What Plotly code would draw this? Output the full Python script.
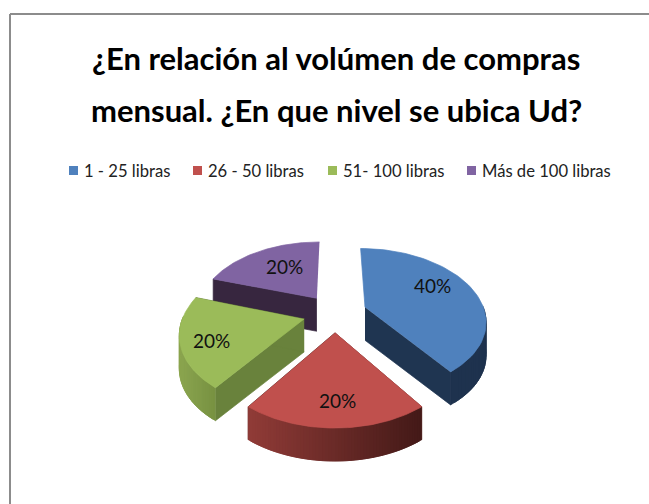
import numpy as np
import plotly.graph_objects as go

title_lines = ["¿En relación al volúmen de compras", "mensual. ¿En que nivel se ubica Ud?"]
categories = ["1 - 25 libras", "26 - 50 libras", "51- 100 libras", "Más de 100 libras"]
percent_values = [40, 20, 20, 20]

top_colors = ["#4F81BD", "#C0504D", "#9BBB59", "#8064A2"]
wall_colors = ["#1F3551", "#5A2523", "#69823C", "#37263F"]
# colour of the curved side at its left and right end
side_colors = [((32, 52, 82), (30, 50, 78)),
               ((146, 60, 56), (68, 26, 24)),
               ((140, 166, 80), (120, 146, 66)),
               ((55, 38, 63), (55, 38, 63))]

# the fake 3d projection, in page pixels
CX, CY = 335, 313
RADIUS = 120
EXPLODE = 32
TILT = 0.59
FOCAL = 690
DEPTH = 33


def project(x, y):
    s = FOCAL / (FOCAL + y)
    return CX + x * s, CY - y * TILT * s


def slice_outline(start, end):
    # angles in degrees, clockwise from 12 o'clock
    mid = np.radians((start + end) / 2)
    ox, oy = EXPLODE * np.sin(mid), EXPLODE * np.cos(mid)
    t = np.radians(np.linspace(start, end, 61))
    return ox, oy, t, ox + RADIUS * np.sin(t), oy + RADIUS * np.cos(t)


def add_poly(fig, xs, ys, color):
    fig.add_trace(go.Scatter(x=xs, y=ys, mode="lines", fill="toself", fillcolor=color,
                             line=dict(color=color, width=0.7), hoverinfo="skip", showlegend=False))


fig = go.Figure()

edges = np.cumsum([0] + percent_values) * 3.6
# back slices first so the front ones sit on top
for i in [3, 0, 2, 1]:
    start, end = edges[i], edges[i + 1]
    ox, oy, t, ax, ay = slice_outline(start, end)
    px, py = project(ax, ay)
    apex_x, apex_y = project(ox, oy)

    # flat cut faces, skip the ones that would hide behind the top
    for ex, ey in [(px[0], py[0]), (px[-1], py[-1])]:
        if ey > apex_y - 25 and (ex - apex_x) * (1 if ex > apex_x else -1) > 0:
            add_poly(fig, [apex_x, ex, ex, apex_x], [apex_y, ey, ey + DEPTH, apex_y + DEPTH], wall_colors[i])

    # curved side, only the part turned to the viewer
    left, right = side_colors[i]
    x_min, x_max = px.min(), px.max()
    for k in range(len(t) - 2):
        if np.cos((t[k] + t[k + 1]) / 2) >= 0.02:
            continue
        f = (px[k] - x_min) / (x_max - x_min)
        rgb = [int(left[c] + (right[c] - left[c]) * f) for c in range(3)]
        # k+2 so each strip overlaps the next one and no seams show
        add_poly(fig, [px[k], px[k + 2], px[k + 2], px[k]],
                 [py[k], py[k + 2], py[k + 2] + DEPTH, py[k] + DEPTH], f"rgb({rgb[0]},{rgb[1]},{rgb[2]})")

    add_poly(fig, np.r_[apex_x, px], np.r_[apex_y, py], top_colors[i])

annotations = []
for line, y in zip(title_lines, [58, 110]):
    annotations.append(dict(text=f"<b>{line}</b>", x=336, y=y, xref="x", yref="y", showarrow=False,
                            font=dict(family="Lato", size=31, color="black")))

shapes = [dict(type="line", x0=10, x1=649, y0=14, y1=14, line=dict(color="#8C8C8C", width=2)),
          dict(type="line", x0=10, x1=10, y0=14, y1=504, line=dict(color="#8C8C8C", width=2))]

swatch_x = [69, 193, 328, 467]
for name, color, x in zip(categories, top_colors, swatch_x):
    shapes.append(dict(type="rect", x0=x, x1=x + 9, y0=166, y1=175, fillcolor=color, line_width=0))
    annotations.append(dict(text=name, x=x + 13, y=171, xref="x", yref="y", xanchor="left", showarrow=False,
                            font=dict(family="Lato", size=16.6, color="#222222")))

label_pos = [(432, 285), (337, 400), (211, 340), (284, 266)]
for value, (x, y) in zip(percent_values, label_pos):
    annotations.append(dict(text=f"{value}%", x=x, y=y, xref="x", yref="y", showarrow=False,
                            font=dict(family="Lato", size=19, color="#111111")))

fig.update_layout(
    width=649, height=504,
    margin=dict(l=0, r=0, t=0, b=0),
    paper_bgcolor="white", plot_bgcolor="white",
    xaxis=dict(range=[0, 649], visible=False, fixedrange=True),
    yaxis=dict(range=[504, 0], visible=False, fixedrange=True),
    annotations=annotations,
    shapes=shapes,
    showlegend=False,
)

fig.write_html("out.html", config={"displayModeBar": False}, post_script="document.body.style.margin='0';")
